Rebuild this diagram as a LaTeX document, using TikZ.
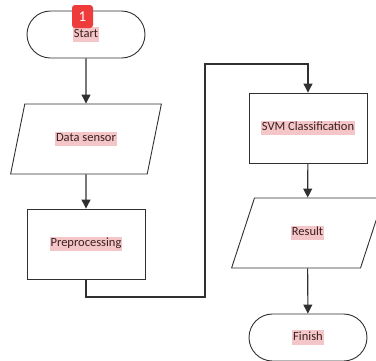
\documentclass[tikz,border=0pt]{standalone}
\usepackage{fontspec}
\setmainfont{Carlito}
\usetikzlibrary{shapes.geometric,arrows.meta}
\definecolor{linec}{HTML}{303030}
\definecolor{hlpink}{HTML}{F5C6C8}
\definecolor{textc}{HTML}{3A2020}
\definecolor{badgered}{HTML}{EE3B3B}
\newcommand{\hlt}[1]{\setlength{\fboxsep}{0.8pt}\colorbox{hlpink}{\strut #1}}
\tikzset{
  box/.style={draw=linec, line width=0.9pt, fill=white, minimum width=118pt, minimum height=70pt, inner sep=0pt, text=textc, font=\fontsize{12.5}{13}\selectfont},
  terminal/.style={box, minimum height=47pt, rounded corners=23.5pt},
  io/.style={box, trapezium, trapezium left angle=64, trapezium right angle=116, trapezium stretches=true, minimum width=152pt, minimum height=70pt},
  conn/.style={draw=linec, line width=1.1pt, -{Triangle[width=9pt,length=9pt]}},
  badge/.style={fill=badgered, rounded corners=3pt, minimum width=21pt, minimum height=23pt, inner sep=0pt, text=white, font=\fontsize{15}{16}\selectfont}
}
\begin{document}
\begin{tikzpicture}[x=1pt, y=-1pt]
\useasboundingbox (0,0) rectangle (376,360);
\clip (0,0) rectangle (376,360);
\node[terminal] (start) at (86,34.5) {\hlt{Start}};
\node[io] (sensor) at (86,139) {\hlt{Data sensor}};
\node[box] (prep) at (86,244) {\hlt{Preprocessing}};
\node[box] (svm) at (308,128) {\hlt{SVM Classification}};
\node[io] (result) at (307.5,233) {\hlt{Result}};
\node[terminal] (finish) at (308,337.5) {\hlt{Finish}};
\node[badge] (b1) at (82.5,16.5) {1};
\coordinate (c1) at (86,297);
\coordinate (c2) at (205,297);
\coordinate (c3) at (205,64);
\coordinate (c4) at (308,64);
\draw[conn] (start) -- (sensor);
\draw[conn] (sensor) -- (prep);
\draw[conn] (prep.south) -- (c1) -- (c2) -- (c3) -- (c4) -- (svm.north);
\draw[conn] (svm) -- (result);
\draw[conn] (result) -- (finish);
\end{tikzpicture}
\end{document}
